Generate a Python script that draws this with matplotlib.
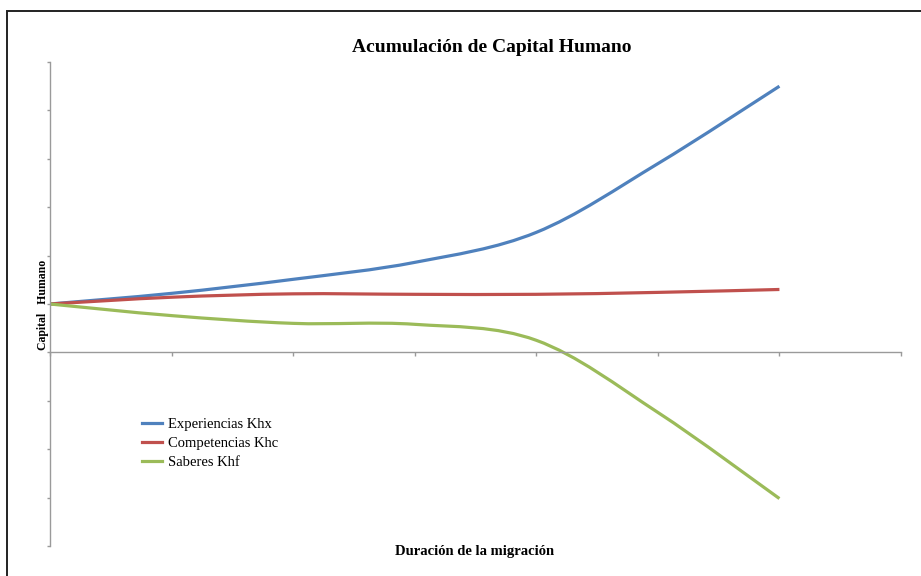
import numpy as np
import matplotlib.pyplot as plt
from matplotlib.path import Path
from matplotlib.patches import PathPatch, Rectangle
from matplotlib.lines import Line2D

# ------------------------------------------------------------
# data (7 periods of migration)
# ------------------------------------------------------------
periods = [0, 1, 2, 3, 4, 5, 6]
experiencias_khx = [1.0, 1.22, 1.51, 1.86, 2.48, 3.90, 5.50]
competencias_khc = [1.0, 1.14, 1.21, 1.20, 1.20, 1.24, 1.30]
saberes_khf = [1.0, 0.76, 0.60, 0.58, 0.25, -1.24, -3.02]

series_labels = ["Experiencias Khx", "Competencias Khc", "Saberes Khf"]
series_colors = ["#4F81BD", "#C0504D", "#9BBB59"]

TITLE = "Acumulación de Capital Humano"
XLABEL = "Duración de la migración"
YLABEL = "Capital   Humano"

SERIF = ["Liberation Serif", "DejaVu Serif"]


def smooth_path(xs, ys):
    """Excel-like smoothed line: cubic Bezier segments through every point."""
    pts = np.column_stack([xs, ys]).astype(float)
    n = len(pts)
    verts = [pts[0]]
    codes = [Path.MOVETO]
    for i in range(n - 1):
        p_prev = pts[i - 1] if i > 0 else pts[i]
        p0, p1 = pts[i], pts[i + 1]
        p_next = pts[i + 2] if i + 2 < n else pts[i + 1]
        c1 = p0 + (p1 - p_prev) / 6.0
        c2 = p1 - (p_next - p0) / 6.0
        verts += [c1, c2, p1]
        codes += [Path.CURVE4] * 3
    return Path(verts, codes)


fig = plt.figure(figsize=(9.21, 5.76), dpi=100)
W, H = 921, 576

ax = fig.add_axes([50 / W, 1 - 546 / H, 851 / W, 484 / H])
ax.set_xlim(0, 7)
ax.set_ylim(-4, 6)

for ys, col in zip([experiencias_khx, competencias_khc, saberes_khf], series_colors):
    patch = PathPatch(smooth_path(periods, ys), facecolor="none", edgecolor=col,
                      lw=2.3, capstyle="butt", joinstyle="round")
    ax.add_patch(patch)

# axes look like an Excel chart: y axis at left, x axis crossing at 0
axis_col = "#9a9a9a"
for side in ["top", "right"]:
    ax.spines[side].set_visible(False)
ax.spines["bottom"].set_position(("data", 0))
ax.spines["bottom"].set_color(axis_col)
ax.spines["left"].set_color(axis_col)
ax.spines["bottom"].set_linewidth(1.0)
ax.spines["left"].set_linewidth(1.0)
ax.set_xticks(range(0, 8))
ax.set_yticks(range(-4, 7))
ax.tick_params(axis="x", direction="out", length=3, width=1, color=axis_col,
               labelbottom=False)
ax.tick_params(axis="y", direction="out", length=2.5, width=1, color=axis_col,
               labelleft=False)

# legend
handles = [Line2D([], [], color=c, lw=2.3) for c in series_colors]
fig.legend(handles, series_labels, loc="upper left",
           bbox_to_anchor=(142 / W, 1 - 418 / H), frameon=False,
           prop={"family": SERIF, "size": 10.5}, handlelength=1.4,
           handletextpad=0.4, labelspacing=0.38, borderaxespad=0, borderpad=0)

# texts
fig.text(492 / W, 1 - 47 / H, TITLE, ha="center", va="center",
         family=SERIF, fontweight="bold", fontsize=14)
fig.text(475 / W, 1 - 551 / H, XLABEL, ha="center", va="center",
         family=SERIF, fontweight="bold", fontsize=10.5)
fig.text(43 / W, 1 - 305 / H, YLABEL, ha="center", va="center", rotation=90,
         family=SERIF, fontweight="bold", fontsize=8.5)

# chart area border (cropped on right and bottom in the reference)
fig.patches.append(Rectangle((6.5 / W, -0.1), 1.2, 1 - 10.5 / H + 0.1,
                             transform=fig.transFigure, facecolor="none",
                             edgecolor="#222222", lw=1.4))

fig.savefig("out.png", dpi=100)
